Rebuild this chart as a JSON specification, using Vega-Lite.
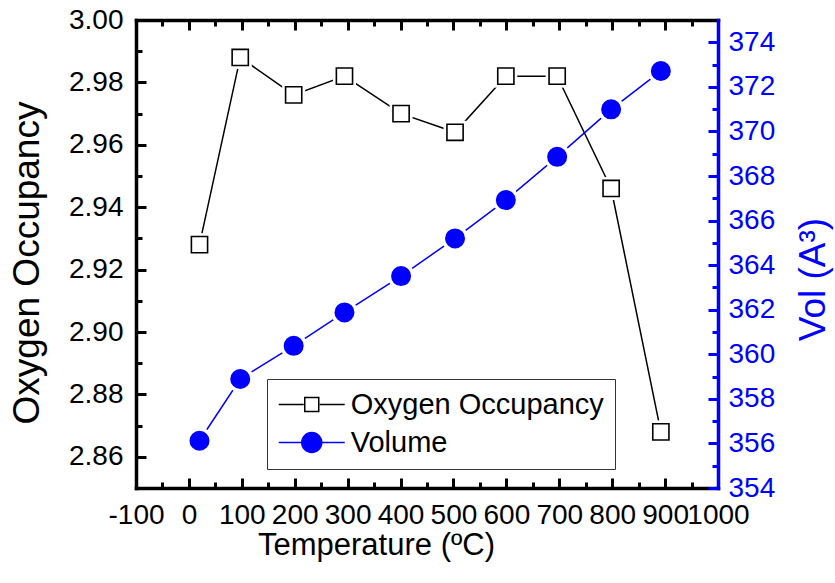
{
  "$schema": "https://vega.github.io/schema/vega-lite/v6.json",
  "width": 582,
  "height": 468,
  "autosize": {"type": "none"},
  "padding": {"left": 136, "top": 20, "right": 117, "bottom": 95},
  "config": {
    "view": {"stroke": null},
    "font": "Liberation Sans",
    "axis": {
      "grid": false,
      "labelFlush": false,
      "labelOverlap": false,
      "labelBound": false,
      "labelFont": "Liberation Sans",
      "titleFont": "Liberation Sans",
      "titleFontWeight": "normal",
      "labelColor": "black",
      "titleColor": "black",
      "tickColor": "black",
      "domainColor": "black",
      "domainCap": "square",
      "tickCap": "butt"
    },
    "legend": {"labelFont": "Liberation Sans"}
  },
  "datasets": {
    "oxy": [
      {"temp": 20, "value": 2.928},
      {"temp": 97, "value": 2.988},
      {"temp": 198, "value": 2.976},
      {"temp": 294, "value": 2.982},
      {"temp": 401, "value": 2.970},
      {"temp": 503, "value": 2.964},
      {"temp": 599, "value": 2.982},
      {"temp": 696, "value": 2.982},
      {"temp": 798, "value": 2.946},
      {"temp": 892, "value": 2.868}
    ],
    "vol": [
      {"temp": 20, "value": 356.12},
      {"temp": 97, "value": 358.89},
      {"temp": 198, "value": 360.38},
      {"temp": 294, "value": 361.88},
      {"temp": 401, "value": 363.51},
      {"temp": 503, "value": 365.2},
      {"temp": 599, "value": 366.92},
      {"temp": 696, "value": 368.86},
      {"temp": 798, "value": 370.99},
      {"temp": 892, "value": 372.71}
    ],
    "series": [
      {"series": "Oxygen Occupancy"},
      {"series": "Volume"}
    ]
  },
  "layer": [
    {
      "data": {"name": "oxy"},
      "mark": {"type": "line", "color": "black", "strokeWidth": 1.5},
      "encoding": {
        "x": {
          "field": "temp", "type": "quantitative",
          "scale": {"domain": [-100, 1000], "nice": false, "zero": false},
          "axis": {
            "orient": "bottom",
            "values": [-100, 0, 100, 200, 300, 400, 500, 600, 700, 800, 900, 1000],
            "labelExpr": "'' + datum.value",
            "tickSize": -10, "tickWidth": 3,
            "domainWidth": 3.5,
            "labelFontSize": 28, "labelPadding": 23,
            "title": "Temperature (ºC)",
            "titleFontSize": 31,
            "titleX": 240, "titleY": 66,
            "titleAlign": "center", "titleBaseline": "alphabetic"
          }
        },
        "y": {
          "field": "value", "type": "quantitative",
          "scale": {"domain": [2.85, 3.0], "nice": false, "zero": false},
          "axis": {
            "orient": "left",
            "values": [2.86, 2.88, 2.90, 2.92, 2.94, 2.96, 2.98, 3.00],
            "format": ".2f",
            "tickSize": -10, "tickWidth": 3,
            "domainWidth": 3.5,
            "labelFontSize": 28, "labelPadding": 23,
            "title": "Oxygen Occupancy",
            "titleFontSize": 37,
            "titleAngle": 270,
            "titleX": -98, "titleY": 242.5,
            "titleAlign": "center", "titleBaseline": "alphabetic"
          }
        }
      }
    },
    {
      "data": {"name": "oxy"},
      "mark": {"type": "point", "shape": "square", "filled": true, "color": "white", "size": 529, "opacity": 1},
      "encoding": {
        "x": {
          "field": "temp", "type": "quantitative",
          "axis": {
            "orient": "bottom",
            "values": [-50, 50, 150, 250, 350, 450, 550, 650, 750, 850, 950],
            "tickSize": -6, "tickWidth": 3,
            "domain": false, "labels": false, "title": null
          }
        },
        "y": {
          "field": "value", "type": "quantitative",
          "scale": {"domain": [2.85, 3.0], "nice": false, "zero": false},
          "axis": {
            "orient": "left",
            "values": [2.87, 2.89, 2.91, 2.93, 2.95, 2.97, 2.99],
            "tickSize": -6, "tickWidth": 3,
            "domain": false, "labels": false, "title": null
          }
        }
      }
    },
    {
      "data": {"name": "oxy"},
      "mark": {"type": "point", "shape": "square", "filled": false, "fill": "white", "stroke": "black", "strokeWidth": 1.6, "size": 262, "opacity": 1},
      "encoding": {
        "x": {
          "field": "temp", "type": "quantitative",
          "axis": {
            "orient": "top",
            "values": [-100, 0, 100, 200, 300, 400, 500, 600, 700, 800, 900, 1000],
            "tickSize": -10, "tickWidth": 3,
            "domainWidth": 3.5,
            "labels": false, "title": null
          }
        },
        "y": {
          "field": "value", "type": "quantitative",
          "scale": {"domain": [2.85, 3.0], "nice": false, "zero": false},
          "axis": null
        }
      }
    },
    {
      "data": {"name": "vol"},
      "mark": {"type": "line", "color": "#0000FF", "strokeWidth": 1.5},
      "encoding": {
        "x": {
          "field": "temp", "type": "quantitative",
          "axis": {
            "orient": "top",
            "values": [-50, 50, 150, 250, 350, 450, 550, 650, 750, 850, 950],
            "tickSize": -6, "tickWidth": 3,
            "domain": false, "labels": false, "title": null
          }
        },
        "y": {
          "field": "value", "type": "quantitative",
          "scale": {"domain": [354, 375], "nice": false, "zero": false},
          "axis": {
            "orient": "right",
            "values": [354, 356, 358, 360, 362, 364, 366, 368, 370, 372, 374],
            "format": "d",
            "tickSize": -10, "tickWidth": 3, "tickColor": "#0000FF",
            "domainWidth": 3.5, "domainColor": "#0000FF",
            "labelFontSize": 28, "labelPadding": 20, "labelColor": "#0000FF",
            "title": "Vol (A³)",
            "titleColor": "#0000FF",
            "titleFontSize": 37,
            "titleAngle": 270,
            "titleX": 106, "titleY": 259,
            "titleAlign": "center", "titleBaseline": "alphabetic"
          }
        }
      }
    },
    {
      "data": {"name": "vol"},
      "mark": {"type": "point", "shape": "circle", "filled": true, "fill": "#0000FF", "stroke": "white", "strokeWidth": 3.4, "size": 548, "opacity": 1},
      "encoding": {
        "x": {"field": "temp", "type": "quantitative", "axis": null},
        "y": {
          "field": "value", "type": "quantitative",
          "scale": {"domain": [354, 375], "nice": false, "zero": false},
          "axis": {
            "orient": "right",
            "values": [355, 357, 359, 361, 363, 365, 367, 369, 371, 373],
            "tickSize": -6, "tickWidth": 3, "tickColor": "#0000FF",
            "domain": false, "labels": false, "title": null
          }
        }
      }
    },
    {
      "data": {"name": "series"},
      "mark": {"type": "point", "opacity": 0},
      "encoding": {
        "shape": {
          "field": "series", "type": "nominal",
          "scale": {
            "domain": ["Oxygen Occupancy", "Volume"],
            "range": [
              "M-3.3 0H-0.8M0.8 0H3.3M-0.7 -0.7H0.7V0.7H-0.7Z",
              "M-3.3 0H-1.05M1.05 0H3.3M-1 0A1 1 0 1 1 1 0A1 1 0 1 1 -1 0Z"
            ]
          },
          "legend": {
            "orient": "none", "legendX": 131, "legendY": 359,
            "title": null, "padding": 11, "rowPadding": 8,
            "labelFontSize": 29, "labelOffset": 24.5, "symbolOffset": 19.25,
            "labelColor": "black", "labelLimit": 400,
            "symbolSize": 400, "symbolStrokeWidth": 1.5,
            "symbolFillColor": "white", "symbolStrokeColor": "black", "symbolOpacity": 1,
            "strokeColor": "#333333"
          }
        },
        "fill": {
          "field": "series", "type": "nominal",
          "scale": {"domain": ["Oxygen Occupancy", "Volume"], "range": ["white", "#0000FF"]},
          "legend": {
            "orient": "none", "legendX": 131, "legendY": 359,
            "title": null, "padding": 11, "rowPadding": 8,
            "labelFontSize": 29, "labelOffset": 24.5, "symbolOffset": 19.25,
            "labelColor": "black", "labelLimit": 400,
            "symbolSize": 400, "symbolStrokeWidth": 1.5,
            "symbolFillColor": "white", "symbolStrokeColor": "black", "symbolOpacity": 1,
            "strokeColor": "#333333"
          }
        },
        "stroke": {
          "field": "series", "type": "nominal",
          "scale": {"domain": ["Oxygen Occupancy", "Volume"], "range": ["black", "#0000FF"]},
          "legend": {
            "orient": "none", "legendX": 131, "legendY": 359,
            "title": null, "padding": 11, "rowPadding": 8,
            "labelFontSize": 29, "labelOffset": 24.5, "symbolOffset": 19.25,
            "labelColor": "black", "labelLimit": 400,
            "symbolSize": 400, "symbolStrokeWidth": 1.5,
            "symbolFillColor": "white", "symbolStrokeColor": "black", "symbolOpacity": 1,
            "strokeColor": "#333333"
          }
        }
      }
    }
  ],
  "resolve": {
    "scale": {"y": "independent"},
    "axis": {"x": "independent", "y": "independent"}
  }
}
